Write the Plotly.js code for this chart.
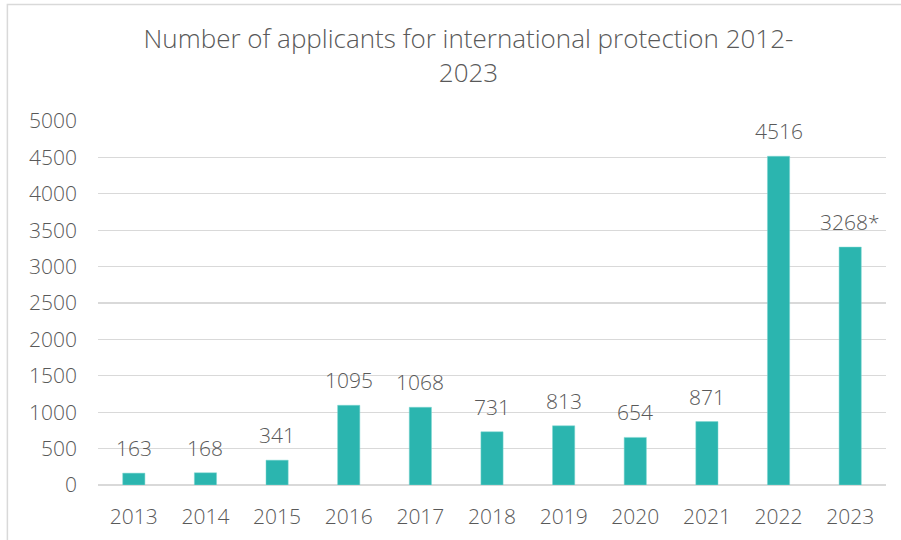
<!DOCTYPE html>
<html><head><meta charset="utf-8">
<script src="https://cdn.plot.ly/plotly-3.0.1.min.js"></script>
<style>body{margin:0;background:#fff}#c{width:901px;height:540px}</style>
</head><body><div id="c"></div>
<script>
const years = ['2013','2014','2015','2016','2017','2018','2019','2020','2021','2022','2023'];
const applicants = [163,168,341,1095,1068,731,813,654,871,4516,3268];
const labels = ['163','168','341','1095','1068','731','813','654','871','4516','3268*'];
const yTicks = [0,500,1000,1500,2000,2500,3000,3500,4000,4500,5000];

const fontFam = '"Open Sans", sans-serif';
const txt = '#595959';

const trace = {
  type:'bar', x: years, y: applicants,
  marker:{color:'#2BB5AF', line:{color:'#7fd6d1', width:0.5}},
  width:0.31, hoverinfo:'none'
};
const annotations = years.map((yr,i)=>({
  x: i, y: applicants[i], xref:'x', yref:'y', text: labels[i],
  showarrow:false, yanchor:'bottom', yshift:9,
  font:{family:fontFam, size:21, color:txt, weight:300}
}));
const layout = {
  width:901, height:540,
  margin:{l:98, r:15, t:121, b:55},
  paper_bgcolor:'#fff', plot_bgcolor:'#fff',
  title:{text:'Number of applicants for international protection 2012-<br>2023',
    x:0.52, xanchor:'center', yref:'container', y:0.911, yanchor:'top',
    font:{family:fontFam, size:26, color:txt, weight:300}},
  xaxis:{type:'category', showgrid:false, zeroline:false, showline:false, ticks:'',
    tickfont:{family:fontFam, size:21, color:txt, weight:300}, ticklabelstandoff:17},
  yaxis:{range:[0,5000], tickvals:yTicks, ticktext:yTicks.map(String),
    showgrid:true, gridcolor:'#d9d9d9', gridwidth:1.3, zeroline:true, zerolinecolor:'#d9d9d9', zerolinewidth:1.3,
    showline:false, ticks:'', ticklabelstandoff:20,
    tickfont:{family:fontFam, size:21, color:txt, weight:300}},
  showlegend:false,
  annotations: annotations,
  shapes:[{type:'rect', xref:'paper', yref:'paper', x0:-0.115, x1:1.03, y0:-0.2, y1:1.32,
    line:{color:'#d9d9d9', width:1.5}, fillcolor:'rgba(0,0,0,0)', layer:'below'}]
};
Plotly.newPlot('c',[trace],layout,{displayModeBar:false, staticPlot:true});
</script></body></html>
